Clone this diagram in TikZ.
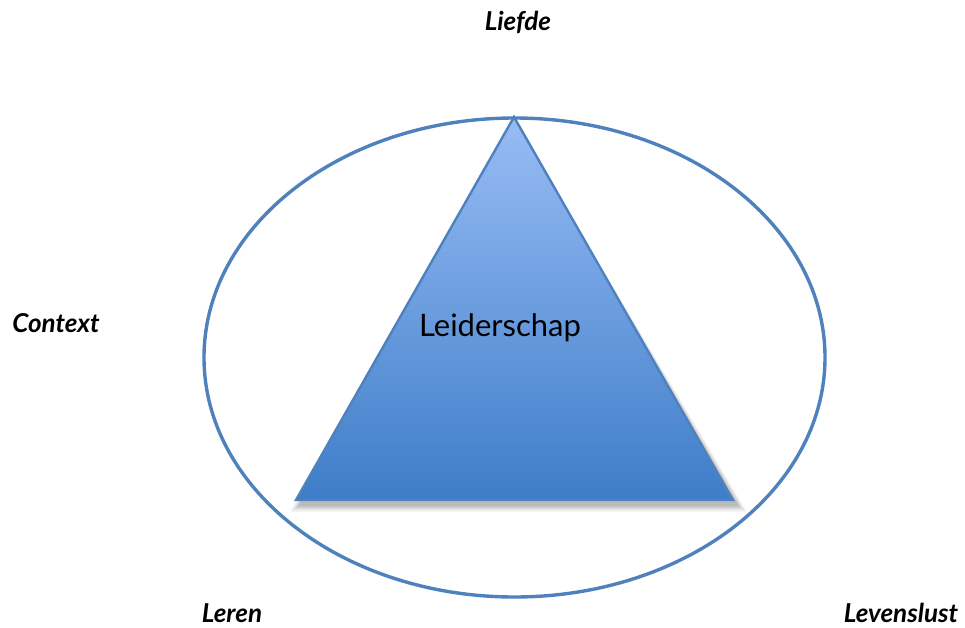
\documentclass[tikz,border=0pt]{standalone}
\usepackage{fontspec}
\setmainfont{Lato}
\usetikzlibrary{shapes.geometric}
\definecolor{edgeblue}{RGB}{79,129,189}
\definecolor{toplight}{RGB}{152,188,245}
\definecolor{botdark}{RGB}{62,125,200}
\tikzset{
  lbl/.style={font=\fontsize{26}{30}\selectfont\bfseries\itshape, text=black, inner sep=0pt},
  mainlbl/.style={font=\fontsize{31}{36}\selectfont, text=black, inner sep=0pt},
}
\begin{document}
\begin{tikzpicture}[x=1pt,y=-1pt]
\useasboundingbox (0,0) rectangle (965,627);
% shadow of triangle
\foreach \s/\o in {10/0.04,8/0.05,6/0.06,4/0.07,2/0.09}{
  \fill[black,opacity=\o] (514,{117+3}) -- ({296-\s+4},{500+5+\s*0.7}) -- ({733+\s+4},{500+5+\s*0.7}) -- cycle;
}
% ellipse
\node (ell) [draw=edgeblue, line width=3.4pt, ellipse, minimum width=621pt, minimum height=479pt, inner sep=0pt] at (514.5,357.5) {};
% triangle
\coordinate (apex) at (514,117);
\coordinate (bl) at (296,500);
\coordinate (br) at (733,500);
\shade[top color=toplight, bottom color=botdark, draw=edgeblue, line width=2.4pt, line join=miter]
  (apex) -- (br) -- (bl) -- cycle;
\node[mainlbl] (lead) at (500,328) {Leiderschap};
\node[lbl] (liefde) at (518,22) {Liefde};
\node[lbl] (context) at (56,323) {Context};
\node[lbl] (leren) at (232,613) {Leren};
\node[lbl] (levens) at (901,613) {Levenslust};
\end{tikzpicture}
\end{document}
